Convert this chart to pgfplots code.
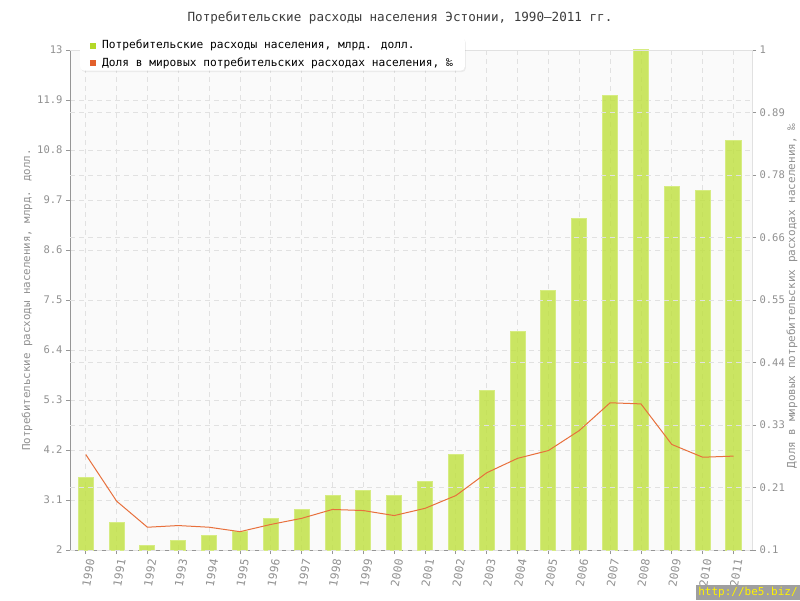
\documentclass[border=0pt]{standalone}
\usepackage{fontspec}
\setmainfont{DejaVu Sans Mono}
\usepackage{pgfplots}
\pgfplotsset{compat=1.18}
\usetikzlibrary{shadows}
\definecolor{bargreen}{RGB}{190,224,60}
\definecolor{baredge}{RGB}{214,236,130}
\definecolor{legendgreen}{RGB}{180,216,40}
\definecolor{lineorange}{RGB}{232,112,60}
\definecolor{legendorange}{RGB}{226,96,44}
\definecolor{plotbg}{RGB}{250,250,250}
\definecolor{gridc}{RGB}{225,225,225}
\definecolor{axisc}{RGB}{150,150,150}
\definecolor{ticktext}{RGB}{145,145,145}
\definecolor{titlec}{RGB}{60,60,60}
\begin{document}
\begin{tikzpicture}[x=1pt,y=1pt]
\useasboundingbox (0,0) rectangle (800,600);
\fill[white] (0,0) rectangle (800,600);
\node[text=titlec] at (400,582) {\fontsize{12.6}{14}\selectfont Потребительские расходы населения Эстонии, 1990–2011 гг.};

\begin{axis}[
  at={(70pt,50pt)}, anchor=south west,
  width=682pt, height=500pt, scale only axis,
  xmin=-0.51, xmax=21.6, ymin=2, ymax=13,
  axis background/.style={fill=plotbg},
  axis x line*=bottom, axis y line*=left,
  axis line style={draw=axisc, line width=1pt},
  every inner x axis line/.append style={-},
  every inner y axis line/.append style={-},
  xtick={0,...,21},
  xticklabels={1990,1991,1992,1993,1994,1995,1996,1997,1998,1999,2000,2001,2002,2003,2004,2005,2006,2007,2008,2009,2010,2011},
  ytick={2,3.1,4.2,5.3,6.4,7.5,8.6,9.7,10.8,11.9,13},
  yticklabels={2,3.1,4.2,5.3,6.4,7.5,8.6,9.7,10.8,11.9,13},
  tick align=outside, major tick length=4pt,
  tick style={draw=axisc, line width=0.8pt},
  x tick label style={rotate=80, anchor=east, yshift=-6pt, xshift=-1pt, font=\fontsize{11.3}{12}\selectfont, text=ticktext},
  y tick label style={font=\fontsize{10.5}{12}\selectfont, text=ticktext},
  xmajorgrids, ymajorgrids,
  major grid style={draw=gridc, dash pattern=on 5pt off 4pt, line width=0.8pt},
  clip=true,
]
\addplot[ybar, bar width=15pt, fill=bargreen, fill opacity=0.8, draw=baredge, line width=1pt] coordinates {
(0,3.60) (1,2.60) (2,2.11) (3,2.21) (4,2.31) (5,2.40) (6,2.70) (7,2.90) (8,3.20) (9,3.30) (10,3.20)
(11,3.50) (12,4.10) (13,5.50) (14,6.80) (15,7.70) (16,9.30) (17,12.00) (18,13.00) (19,10.00) (20,9.90) (21,11.00)
};
\end{axis}

\begin{axis}[
  at={(70pt,50pt)}, anchor=south west,
  width=682pt, height=500pt, scale only axis,
  xmin=-0.51, xmax=21.6, ymin=0.1, ymax=1,
  axis x line=none, axis y line*=right,
  axis line style={draw=gridc, line width=1pt},
  every inner y axis line/.append style={-},
  ytick={0.1,0.2125,0.325,0.4375,0.55,0.6625,0.775,0.8875,1},
  yticklabels={0.1,0.21,0.33,0.44,0.55,0.66,0.78,0.89,1},
  tick align=outside, major tick length=4pt,
  tick style={draw=axisc, line width=0.8pt},
  y tick label style={font=\fontsize{10.5}{12}\selectfont, text=ticktext},
  ymajorgrids,
  major grid style={draw=gridc, dash pattern=on 5pt off 4pt, line width=0.8pt},
  legend style={at={(0.0147,1.026)}, anchor=north west, draw=none, fill=white,
    rounded corners=4pt, font=\fontsize{11.2}{13}\selectfont,
    drop shadow={opacity=0.12, shadow xshift=1pt, shadow yshift=-1.5pt},
    inner xsep=10pt, inner ysep=1pt, row sep=3pt,
    /tikz/every odd column/.append style={column sep=5pt}},
  legend cell align=left,
]
\draw[gridc, line width=1pt] (rel axis cs:0,1) -- (rel axis cs:1,1);
\addlegendimage{only marks, mark=square*, mark size=2.5pt, color=legendgreen}
\addlegendentry{Потребительские расходы населения, млрд. долл.}
\addlegendimage{only marks, mark=square*, mark size=2.5pt, color=legendorange}
\addlegendentry{Доля в мировых потребительских расходах населения, ‰}
\addplot[color=lineorange, line width=1pt, forget plot] coordinates {
(0,0.272) (1,0.188) (2,0.141) (3,0.144) (4,0.141) (5,0.133) (6,0.146) (7,0.157) (8,0.173) (9,0.171) (10,0.162)
(11,0.175) (12,0.198) (13,0.239) (14,0.265) (15,0.279) (16,0.315) (17,0.365) (18,0.363) (19,0.290) (20,0.267) (21,0.269)
};
\end{axis}

\node[rotate=90, text=ticktext] at (27,300) {\fontsize{10.8}{13}\selectfont Потребительские расходы населения, млрд. долл.};
\node[rotate=90, text=ticktext] at (792,304) {\fontsize{11}{13}\selectfont Доля в мировых потребительских расходах населения, ‰};

\fill[gray!75] (696,0) rectangle (800,15);
\node[text=yellow, inner sep=0pt] at (748,7.5) {\fontsize{11}{12}\selectfont http://be5.biz/};
\end{tikzpicture}
\end{document}
